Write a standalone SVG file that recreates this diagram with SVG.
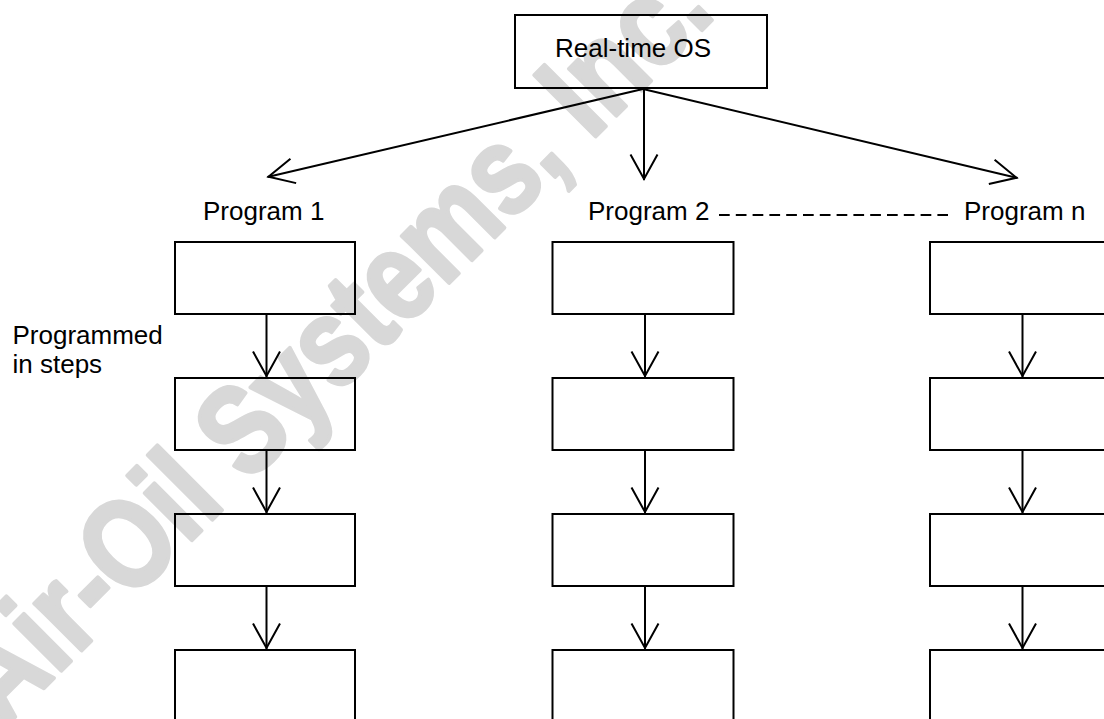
<svg xmlns="http://www.w3.org/2000/svg" width="1104" height="719" viewBox="0 0 1104 719">
<style>
.box{fill:none;stroke:#000;stroke-width:2}
.lbl{font-family:"Liberation Sans",Arial,sans-serif;font-size:26px;fill:#000}
.wire{fill:none;stroke:#000;stroke-width:2}
.wm{font-family:"Liberation Sans",Arial,sans-serif;font-weight:bold;font-size:126px;fill:#d8d8d8;stroke:#d8d8d8;stroke-width:4;stroke-linejoin:round}
</style>
<defs>
<marker id="av" markerUnits="userSpaceOnUse" markerWidth="30" markerHeight="30" orient="auto" overflow="visible">
<path d="M-25.5,-13.5 L-1,0 L-25.5,13.5" fill="none" stroke="#000" stroke-width="2"/>
</marker>
<marker id="ad" markerUnits="userSpaceOnUse" markerWidth="30" markerHeight="30" orient="auto" overflow="visible">
<path d="M-26.5,-12.5 L-1,0 L-26.5,12.5" fill="none" stroke="#000" stroke-width="2"/>
</marker>
</defs>
<rect width="1104" height="719" fill="#fff"/>
<g id="watermark">
<text class="wm" x="360" y="372" text-anchor="middle" textLength="1010" lengthAdjust="spacingAndGlyphs" transform="rotate(-45 360 372)">Air-Oil Systems, Inc.</text>
</g>
<g id="os">
<rect class="box" x="515" y="15" width="252" height="73"/>
<text class="lbl" x="555" y="57">Real-time OS</text>
</g>
<g id="labels">
<text class="lbl" x="203" y="220">Program 1</text>
<text class="lbl" x="588" y="220">Program 2</text>
<text class="lbl" x="964" y="220">Program n</text>
<text class="lbl" x="12.5" y="344">Programmed</text>
<text class="lbl" x="12.5" y="373">in steps</text>
</g>
<g id="p1">
<rect class="box" x="175" y="242" width="180" height="72"/>
<rect class="box" x="175" y="378" width="180" height="72"/>
<rect class="box" x="175" y="514" width="180" height="72"/>
<rect class="box" x="175" y="650" width="180" height="72"/>
</g>
<g id="p2">
<rect class="box" x="552.5" y="242" width="181" height="72"/>
<rect class="box" x="552.5" y="378" width="181" height="72"/>
<rect class="box" x="552.5" y="514" width="181" height="72"/>
<rect class="box" x="552.5" y="650" width="181" height="72"/>
</g>
<g id="pn">
<rect class="box" x="930" y="242" width="181" height="72"/>
<rect class="box" x="930" y="378" width="181" height="72"/>
<rect class="box" x="930" y="514" width="181" height="72"/>
<rect class="box" x="930" y="650" width="181" height="72"/>
</g>
<g id="connectors">
<line class="wire" x1="643" y1="89" x2="267.5" y2="177" marker-end="url(#ad)"/>
<line class="wire" x1="643" y1="89" x2="1017.5" y2="178" marker-end="url(#ad)"/>
<line class="wire" x1="644" y1="89" x2="644" y2="180" marker-end="url(#av)"/>
<line class="wire" x1="719" y1="215" x2="948" y2="215" stroke-dasharray="10.7 6.1"/>
<line class="wire" x1="266.5" y1="315" x2="266.5" y2="377" marker-end="url(#av)"/>
<line class="wire" x1="266.5" y1="451" x2="266.5" y2="513" marker-end="url(#av)"/>
<line class="wire" x1="266.5" y1="587" x2="266.5" y2="649" marker-end="url(#av)"/>
<line class="wire" x1="645" y1="315" x2="645" y2="377" marker-end="url(#av)"/>
<line class="wire" x1="645" y1="451" x2="645" y2="513" marker-end="url(#av)"/>
<line class="wire" x1="645" y1="587" x2="645" y2="649" marker-end="url(#av)"/>
<line class="wire" x1="1022.5" y1="315" x2="1022.5" y2="377" marker-end="url(#av)"/>
<line class="wire" x1="1022.5" y1="451" x2="1022.5" y2="513" marker-end="url(#av)"/>
<line class="wire" x1="1022.5" y1="587" x2="1022.5" y2="649" marker-end="url(#av)"/>
</g>
</svg>
